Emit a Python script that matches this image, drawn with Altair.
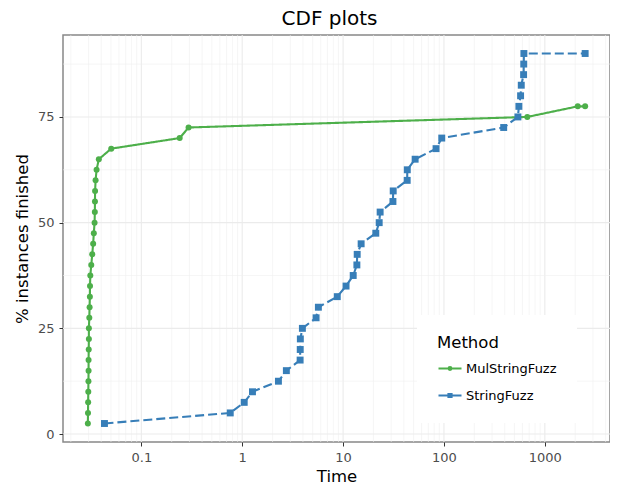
import altair as alt
import pandas as pd

methods = ["MulStringFuzz", "StringFuzz"]
colors = ["#4DAF4A", "#377EB8"]

mul_pct = [2.5, 5, 7.5, 10, 12.5, 15, 17.5, 20, 22.5, 25, 27.5, 30, 32.5, 35, 37.5, 40,
           42.5, 45, 47.5, 50, 52.5, 55, 57.5, 60, 62.5, 65, 67.5, 70, 72.5, 75, 77.5, 77.5]
mul_time = [0.0295, 0.0296, 0.0297, 0.0298, 0.0299, 0.0300, 0.0300, 0.0301, 0.0302, 0.0302,
            0.0305, 0.0307, 0.0309, 0.0310, 0.0312, 0.0319, 0.0326, 0.0333, 0.0338, 0.0344,
            0.0346, 0.0347, 0.0348, 0.0352, 0.0360, 0.0379, 0.0503, 0.240, 0.294, 670, 2120, 2510]

str_pct = [2.5, 5, 7.5, 10, 12.5, 15, 17.5, 20, 22.5, 25, 27.5, 30, 32.5, 35, 37.5, 40,
           42.5, 45, 47.5, 50, 52.5, 55, 57.5, 60, 62.5, 65, 67.5, 70, 72.5, 75, 77.5, 80,
           82.5, 85, 87.5, 90, 90]
str_time = [0.0431, 0.761, 1.047, 1.264, 2.286, 2.74, 3.75, 3.76, 3.77, 3.95, 5.40, 5.69,
            8.76, 10.7, 12.6, 13.7, 13.8, 15.1, 21.1, 22.8, 23.3, 31.2, 31.4, 43.2, 43.3,
            51.8, 83.5, 95.1, 391, 541, 553, 575, 584, 616, 618, 620, 2510]

x_major = [0.1, 1, 10, 100, 1000]
x_minor = [m * 10 ** k for k in range(-2, 4) for m in range(2, 10)]
y_major = [0, 25, 50, 75]
y_minor = [12.5, 37.5, 62.5, 87.5]

x_domain = [0.01673, 4426]
y_domain = [-1.875, 94.375]
x_minor = [v for v in x_minor if x_domain[0] < v < x_domain[1]]

rows = []
for i, (t, p) in enumerate(zip(mul_time, mul_pct)):
    rows.append({"Time": t, "pct": p, "Method": methods[0], "idx": i})
for i, (t, p) in enumerate(zip(str_time, str_pct)):
    rows.append({"Time": t, "pct": p, "Method": methods[1], "idx": i})
df = pd.DataFrame(rows)
df["Key"] = df["Method"]  # same categories, used only to draw the legend

FONT = "DejaVu Sans"
xscale = alt.Scale(type="log", domain=x_domain, nice=False, zero=False)
yscale = alt.Scale(domain=y_domain, nice=False, zero=False)
cscale = alt.Scale(domain=methods, range=colors)

xaxis = alt.Axis(values=x_major, format="~g", grid=False, domain=False,
                 tickColor="#333333", tickSize=4, tickWidth=1,
                 labelColor="#4D4D4D", labelFontSize=13, labelPadding=5,
                 title="Time", titleFontSize=16.5, titleColor="black",
                 titleFontWeight="normal", titlePadding=4)
yaxis = alt.Axis(values=y_major, grid=False, domain=False,
                 tickColor="#333333", tickSize=4, tickWidth=1,
                 labelColor="#4D4D4D", labelFontSize=13, labelPadding=5,
                 title="% instances finished", titleFontSize=16.5, titleColor="black",
                 titleFontWeight="normal", titlePadding=7)

base = alt.Chart(df).encode(
    x=alt.X("Time:Q", scale=xscale, axis=xaxis),
    y=alt.Y("pct:Q", scale=yscale, axis=yaxis),
)

gx_minor = alt.Chart(pd.DataFrame({"Time": x_minor})).mark_rule(
    color="#F0F0F0", strokeWidth=0.6).encode(x=alt.X("Time:Q", scale=xscale, axis=xaxis))
gx_major = alt.Chart(pd.DataFrame({"Time": x_major})).mark_rule(
    color="#EBEBEB", strokeWidth=1.1).encode(x=alt.X("Time:Q", scale=xscale, axis=xaxis))
gy_minor = alt.Chart(pd.DataFrame({"pct": y_minor})).mark_rule(
    color="#F0F0F0", strokeWidth=0.6).encode(y=alt.Y("pct:Q", scale=yscale, axis=yaxis))
gy_major = alt.Chart(pd.DataFrame({"pct": y_major})).mark_rule(
    color="#EBEBEB", strokeWidth=1.1).encode(y=alt.Y("pct:Q", scale=yscale, axis=yaxis))

lines = base.mark_line(strokeWidth=2.1).encode(
    stroke=alt.Stroke("Method:N", scale=cscale, legend=None),
    strokeDash=alt.StrokeDash("Method:N", scale=alt.Scale(domain=methods, range=[[1, 0], [9, 4]]),
                              legend=None),
    order=alt.Order("idx:Q"),
)

pts_mul = base.transform_filter(alt.datum.Method == methods[0]).mark_point(
    filled=True, shape="circle", size=36, opacity=1).encode(
    fill=alt.Fill("Method:N", scale=cscale, legend=None),
)
pts_str = base.transform_filter(alt.datum.Method == methods[1]).mark_point(
    filled=True, shape="square", size=48, opacity=1).encode(
    fill=alt.Fill("Method:N", scale=cscale, legend=None),
)

# legend keys: a short line with the point glyph through its middle
circ_path = "M-1,0H1M-0.12,0A0.12,0.12,0,1,0,0.12,0A0.12,0.12,0,1,0,-0.12,0Z"
sq_path = "M-1,0H1M-0.13,-0.13H0.13V0.13H-0.13Z"
leg = alt.Legend(title="Method", orient="none", legendX=354, legendY=280,
                 fillColor="white", padding=20,
                 titleFontSize=16.5, titleFontWeight="normal", titleColor="black",
                 titlePadding=4,
                 labelFontSize=13, labelColor="black", labelOffset=3,
                 symbolSize=529, symbolStrokeWidth=2.2, symbolOpacity=1, rowPadding=7)
legend_layer = base.mark_point(filled=False, opacity=0, strokeWidth=2.2).encode(
    color=alt.Color("Key:N", scale=alt.Scale(range=colors), legend=leg),
    shape=alt.Shape("Key:N", scale=alt.Scale(range=[circ_path, sq_path]), legend=leg),
)

chart = alt.layer(gx_minor, gx_major, gy_minor, gy_major, lines, pts_mul, pts_str,
                  legend_layer).properties(
    width=547, height=407,
    title=alt.Title("CDF plots", fontSize=20, fontWeight="normal", color="black",
                    anchor="middle", offset=5, dx=-7),
    autosize=alt.AutoSizeParams(type="none"),
    padding={"left": 55, "top": 27, "right": 0, "bottom": 41},
).configure(font=FONT).configure_view(stroke="#888888", strokeWidth=1.5)

chart.save("out.html", embed_options={"renderer": "svg", "actions": False})
